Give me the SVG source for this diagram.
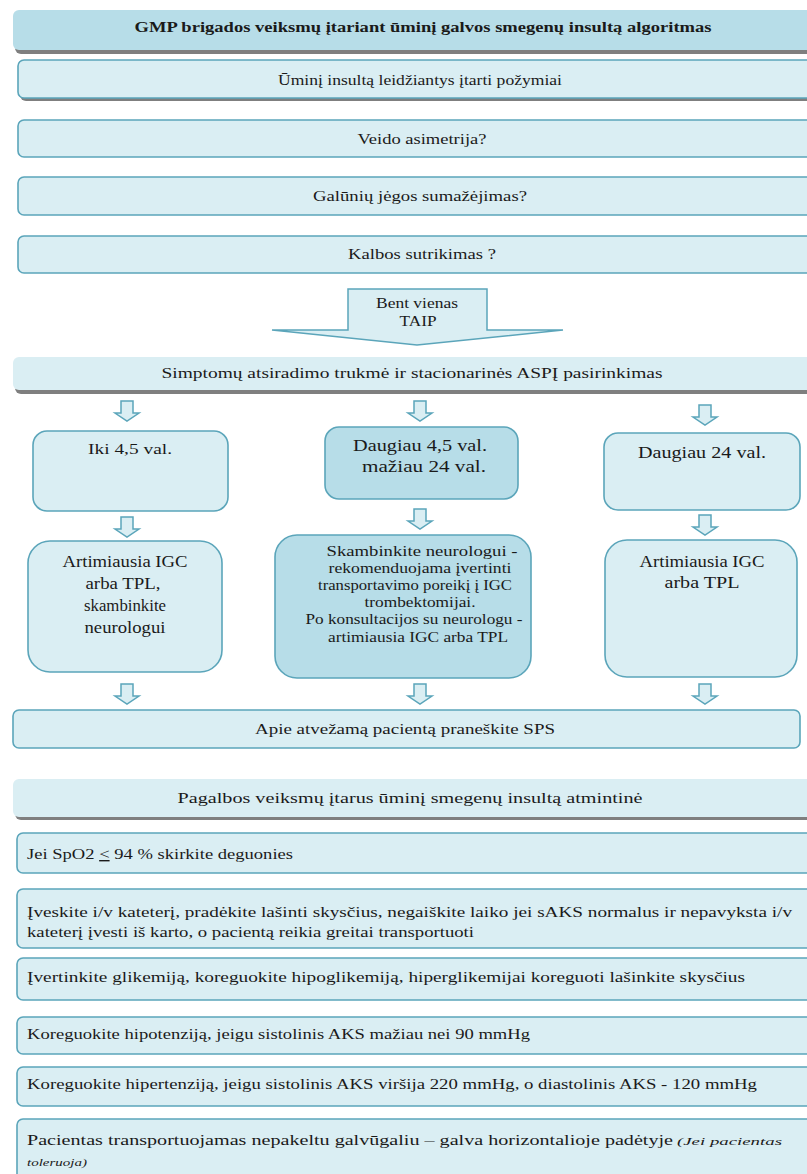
<svg xmlns="http://www.w3.org/2000/svg" xmlns:xlink="http://www.w3.org/1999/xlink" width="807" height="1174" viewBox="0 0 807 1174" font-family="'Liberation Serif', 'DejaVu Serif', serif">
<style>
text{font-family:'Liberation Serif','DejaVu Serif',serif;fill:#1a1a1a;font-size:14px}
.c{text-anchor:middle}
.light{fill:#daeef3;stroke:#5ba5ba;stroke-width:1.6}
.lightns{fill:#daeef3;stroke:none}
.mid{fill:#b7dde8;stroke:#5ba5ba;stroke-width:1.6}
.midns{fill:#b7dde8;stroke:none}
.shadow{fill:#7f7f7f}
.arr{fill:#daeef3;stroke:#5ba5ba;stroke-width:1.5;stroke-linejoin:miter}
.big{font-size:17px}
.m{font-size:16px}
.n{font-size:15px}
.it{font-style:italic;font-size:11px}
</style>
<defs>
<path id="barrow" d="M-6,-20 H6 V-8 H12 L0,0 L-12,-8 H-6 Z"/>
</defs>
<rect width="807" height="1174" fill="#ffffff"/>

<g id="title">
<rect class="shadow" x="15" y="13" width="800" height="41" rx="6"/>
<rect class="midns" x="13" y="10" width="800" height="40" rx="6"/>
<text class="c" x="423" y="32" font-weight="bold" textLength="577" lengthAdjust="spacingAndGlyphs">GMP brigados veiksmų įtariant ūminį galvos smegenų insultą algoritmas</text>
</g>

<g id="n-pozymiai">
<rect class="shadow" x="20" y="63" width="800" height="38" rx="6"/>
<rect class="light" x="18" y="60" width="800" height="38" rx="6"/>
<text class="c" x="420" y="85" textLength="284" lengthAdjust="spacingAndGlyphs">Ūminį insultą leidžiantys įtarti požymiai</text>
</g>

<g id="n-veido">
<rect class="light" x="18" y="120" width="800" height="37" rx="6"/>
<text class="c" x="422" y="144" textLength="129" lengthAdjust="spacingAndGlyphs">Veido asimetrija?</text>
</g>

<g id="n-galuniu">
<rect class="light" x="18" y="177" width="800" height="38" rx="6"/>
<text class="c" x="420" y="201" textLength="214" lengthAdjust="spacingAndGlyphs">Galūnių jėgos sumažėjimas?</text>
</g>

<g id="n-kalbos">
<rect class="light" x="18" y="236" width="800" height="37" rx="6"/>
<text class="c" x="422" y="259" textLength="148" lengthAdjust="spacingAndGlyphs">Kalbos sutrikimas ?</text>
</g>

<g id="n-taip">
<path class="arr" d="M348,330 V289 H487 V330 H563 L417,345 L272,330 Z"/>
<text class="c" x="417" y="308" font-size="13" textLength="82" lengthAdjust="spacingAndGlyphs">Bent vienas</text>
<text class="c" x="418" y="326" font-size="13" textLength="37" lengthAdjust="spacingAndGlyphs">TAIP</text>
</g>

<g id="n-simptomu">
<rect class="shadow" x="15" y="360" width="800" height="34" rx="6"/>
<rect class="lightns" x="13" y="357" width="800" height="33" rx="6"/>
<text class="c" x="412" y="378" textLength="501" lengthAdjust="spacingAndGlyphs">Simptomų atsiradimo trukmė  ir  stacionarinės ASPĮ pasirinkimas</text>
</g>

<g id="n-iki">
<rect class="light" x="33" y="431" width="195" height="80" rx="14"/>
<text class="c" x="130" y="454" textLength="84" lengthAdjust="spacingAndGlyphs">Iki 4,5 val.</text>
</g>

<g id="n-daugiau45">
<rect class="mid" x="325" y="427" width="193" height="72" rx="14"/>
<text class="c big" x="420" y="451" textLength="134" lengthAdjust="spacingAndGlyphs">Daugiau 4,5 val.</text>
<text class="c big" x="424" y="472" textLength="124" lengthAdjust="spacingAndGlyphs">mažiau  24 val.</text>
</g>

<g id="n-daugiau24">
<rect class="light" x="604" y="433" width="196" height="77" rx="14"/>
<text class="c big" x="702" y="458" textLength="128" lengthAdjust="spacingAndGlyphs">Daugiau 24 val.</text>
</g>

<g id="n-art1">
<rect class="light" x="28" y="541" width="194" height="131" rx="22"/>
<text class="c m" x="125" y="567" textLength="125" lengthAdjust="spacingAndGlyphs">Artimiausia IGC</text>
<text class="c m" x="123" y="589" textLength="75" lengthAdjust="spacingAndGlyphs">arba TPL,</text>
<text class="c m" x="125" y="611" textLength="82" lengthAdjust="spacingAndGlyphs">skambinkite</text>
<text class="c m" x="125" y="633" textLength="81" lengthAdjust="spacingAndGlyphs">neurologui</text>
</g>

<g id="n-neurologui">
<rect class="mid" x="275" y="535" width="256" height="143" rx="22"/>
<text class="c n" x="422" y="556" textLength="191" lengthAdjust="spacingAndGlyphs">Skambinkite  neurologui -</text>
<text class="c n" x="420" y="573" textLength="183" lengthAdjust="spacingAndGlyphs">rekomenduojama įvertinti</text>
<text class="c n" x="415" y="590" textLength="194" lengthAdjust="spacingAndGlyphs">transportavimo poreikį į IGC</text>
<text class="c n" x="420" y="607" textLength="111" lengthAdjust="spacingAndGlyphs">trombektomijai.</text>
<text class="c n" x="414" y="624" textLength="217" lengthAdjust="spacingAndGlyphs">Po konsultacijos su neurologu -</text>
<text class="c n" x="418" y="642" textLength="180" lengthAdjust="spacingAndGlyphs">artimiausia IGC arba TPL</text>
</g>

<g id="n-art2">
<rect class="light" x="605" y="540" width="192" height="137" rx="22"/>
<text class="c m" x="702" y="567" textLength="125" lengthAdjust="spacingAndGlyphs">Artimiausia IGC</text>
<text class="c m" x="702" y="588" textLength="75" lengthAdjust="spacingAndGlyphs">arba TPL</text>
</g>

<g id="n-sps">
<rect class="light" x="13" y="710" width="787" height="38" rx="6"/>
<text class="c" x="405" y="734" textLength="300" lengthAdjust="spacingAndGlyphs">Apie atvežamą pacientą praneškite SPS</text>
</g>

<g id="n-atmintine">
<rect class="shadow" x="15" y="782" width="800" height="38" rx="6"/>
<rect class="lightns" x="13" y="779" width="800" height="38" rx="6"/>
<text class="c" x="410" y="803" textLength="465" lengthAdjust="spacingAndGlyphs">Pagalbos  veiksmų  įtarus  ūminį  smegenų  insultą atmintinė</text>
</g>

<g id="n-spo2">
<rect class="light" x="17" y="833" width="800" height="40" rx="6"/>
<text x="27" y="859" textLength="266" lengthAdjust="spacingAndGlyphs">Jei SpO2 <tspan text-decoration="underline">&lt;</tspan> 94 % skirkite  deguonies</text>
</g>

<g id="n-kateteris">
<rect class="light" x="17" y="889" width="800" height="59" rx="6"/>
<text x="27" y="917" textLength="765" lengthAdjust="spacingAndGlyphs">Įveskite i/v kateterį, pradėkite lašinti skysčius, negaiškite laiko jei sAKS normalus ir nepavyksta i/v</text>
<text x="27" y="937" textLength="447" lengthAdjust="spacingAndGlyphs">kateterį įvesti iš karto, o pacientą reikia greitai transportuoti</text>
</g>

<g id="n-glikemija">
<rect class="light" x="17" y="958" width="800" height="42" rx="6"/>
<text x="27" y="982" textLength="718" lengthAdjust="spacingAndGlyphs">Įvertinkite glikemiją, koreguokite  hipoglikemiją, hiperglikemijai koreguoti lašinkite skysčius</text>
</g>

<g id="n-hipotenzija">
<rect class="light" x="17" y="1017" width="800" height="37" rx="6"/>
<text x="27" y="1039" textLength="503" lengthAdjust="spacingAndGlyphs">Koreguokite hipotenziją, jeigu sistolinis AKS mažiau nei 90 mmHg</text>
</g>

<g id="n-hipertenzija">
<rect class="light" x="17" y="1067" width="800" height="39" rx="6"/>
<text x="27" y="1089" textLength="730" lengthAdjust="spacingAndGlyphs">Koreguokite hipertenziją, jeigu sistolinis AKS viršija  220 mmHg, o diastolinis AKS - 120 mmHg</text>
</g>

<g id="n-transportavimas">
<rect class="light" x="17" y="1119" width="800" height="70" rx="6"/>
<text x="27" y="1145" font-size="16" textLength="646" lengthAdjust="spacingAndGlyphs">Pacientas transportuojamas nepakeltu galvūgaliu – galva horizontalioje padėtyje</text>
<text class="it" x="677" y="1145" textLength="105" lengthAdjust="spacingAndGlyphs">(Jei pacientas</text>
<text class="it" x="27" y="1166" textLength="60" lengthAdjust="spacingAndGlyphs">toleruoja)</text>
</g>

<g id="connectors">
<use xlink:href="#barrow" class="arr" x="127" y="421"/>
<use xlink:href="#barrow" class="arr" x="420" y="421"/>
<use xlink:href="#barrow" class="arr" x="705" y="425"/>
<use xlink:href="#barrow" class="arr" x="127" y="537"/>
<use xlink:href="#barrow" class="arr" x="420" y="529"/>
<use xlink:href="#barrow" class="arr" x="705" y="535"/>
<use xlink:href="#barrow" class="arr" x="127" y="704"/>
<use xlink:href="#barrow" class="arr" x="420" y="704"/>
<use xlink:href="#barrow" class="arr" x="705" y="704"/>
</g>
</svg>
